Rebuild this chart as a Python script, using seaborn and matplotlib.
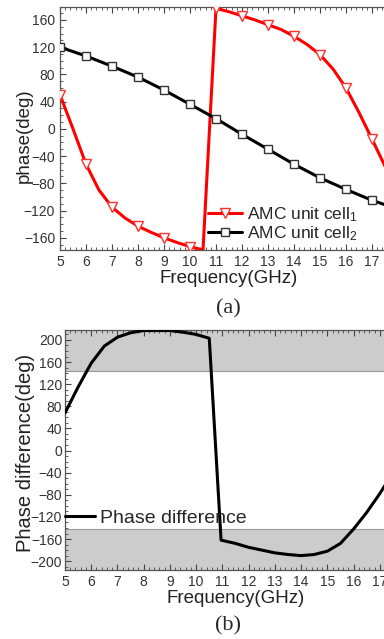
import numpy as np
import pandas as pd
import matplotlib
matplotlib.use("Agg")
import matplotlib.pyplot as plt
from matplotlib.ticker import AutoMinorLocator, MultipleLocator
import seaborn as sns

# ---- data ----
freq_cell1 = [5, 5.5, 6, 6.5, 7, 7.5, 8, 8.5, 9, 9.5, 10, 10.5, 11, 11.5, 12, 12.5,
              13, 13.5, 14, 14.5, 15, 15.5, 16, 16.5, 17, 17.5, 18]
phase_cell1 = [50, 0, -52, -90, -115, -131, -143, -152, -160, -167, -173, -178, 177, 172,
               166, 160, 153, 146, 136, 124, 109, 88, 60, 24, -15, -55, -95]
marker_idx_cell1 = [0, 2, 4, 6, 8, 10, 12, 14, 16, 18, 20, 22, 24, 26]

freq_cell2 = [5, 6, 7, 8, 9, 10, 11, 12, 13, 14, 15, 16, 17, 18]
phase_cell2 = [120, 107, 92, 76, 57, 36, 15, -8, -30, -52, -72, -89, -105, -118]

freq_diff = [5, 5.5, 6, 6.5, 7, 7.5, 8, 8.5, 9, 9.5, 10, 10.5, 10.95, 11.5, 12, 12.5,
             13, 13.5, 14, 14.5, 15, 15.5, 16, 16.5, 17, 17.5, 18]
phase_diff = [68, 115, 158, 189, 205, 213, 217, 217, 217, 214, 210, 203, -162, -168,
              -175, -180, -185, -188, -190, -188, -182, -168, -142, -112, -78, -40, 0]

label_cell1 = "AMC unit cell$_{1}$"
label_cell2 = "AMC unit cell$_{2}$"
label_diff = "Phase difference"
xticks = list(range(5, 18))
yticks_a = [-160, -120, -80, -40, 0, 40, 80, 120, 160]
yticks_b = [-200, -160, -120, -80, -40, 0, 40, 80, 120, 160, 200]

df1 = pd.DataFrame({"f": freq_cell1, "p": phase_cell1})
df2 = pd.DataFrame({"f": freq_cell2, "p": phase_cell2})
dfd = pd.DataFrame({"f": freq_diff, "p": phase_diff})

sns.set_style("ticks")
plt.rcParams["font.family"] = ["Liberation Sans", "DejaVu Sans"]
plt.rcParams["mathtext.default"] = "regular"

W, H = 384, 639
fig = plt.figure(figsize=(W / 100, H / 100), dpi=100)

def frac(l, t, r, b):
    return [l / W, 1 - b / H, (r - l) / W, (b - t) / H]

axa = fig.add_axes(frac(60, 7, 398, 250))
axb = fig.add_axes(frac(65, 330, 406, 570))

# ---- panel (a) ----
sns.lineplot(data=df1, x="f", y="p", ax=axa, color="#ff0000", linewidth=2.2,
             marker="v", markevery=marker_idx_cell1, markersize=7,
             markerfacecolor="white", markeredgecolor="#ff3030",
             markeredgewidth=1.0, label=label_cell1, zorder=3)
sns.lineplot(data=df2, x="f", y="p", ax=axa, color="black", linewidth=2.2,
             marker="s", markersize=6, markerfacecolor="white",
             markeredgecolor="#333333", markeredgewidth=1.0,
             label=label_cell2, zorder=3)
axa.set_xlim(5, 18)
axa.set_ylim(-178, 179)
axa.set_yticks(yticks_a)
axa.set_xticks(xticks)
axa.set_xlabel("Frequency(GHz)", fontsize=13.5, labelpad=1, color="#222222")
axa.set_ylabel("phase(deg)", fontsize=13.5, color="#222222")
axa.yaxis.set_label_coords(-0.080, 0.47)
axa.legend(loc="center left", bbox_to_anchor=(208 / W, 1 - 224 / H),
           bbox_transform=fig.transFigure, frameon=False, fontsize=12.5,
           borderpad=0, borderaxespad=0, handlelength=1.95, handletextpad=0.3,
           labelspacing=0.0, numpoints=1)

# ---- panel (b) ----
axb.axhspan(144, 260, color="#cccccc", zorder=0, lw=0)
axb.axhspan(-260, -142, color="#cccccc", zorder=0, lw=0)
axb.axhline(144, color="#999999", lw=0.8, zorder=1)
axb.axhline(-142, color="#999999", lw=0.8, zorder=1)
sns.lineplot(data=dfd, x="f", y="p", ax=axb, color="black", linewidth=2.2,
             label=label_diff, zorder=3)
axb.set_xlim(5, 18)
axb.set_ylim(-216, 218)
axb.set_yticks(yticks_b)
axb.set_xticks(xticks)
axb.set_xlabel("Frequency(GHz)", fontsize=13.5, labelpad=1, color="#222222")
axb.set_ylabel("Phase difference(deg)", fontsize=14.5, color="#222222")
axb.yaxis.set_label_coords(-0.088, 0.4875)
axb.legend(loc="center left", bbox_to_anchor=(65 / W, 1 - 518 / H),
           bbox_transform=fig.transFigure, frameon=False, fontsize=14,
           borderpad=0, borderaxespad=0, handlelength=1.55, handletextpad=0.26)

for ax, pad in ((axa, 3.5), (axb, 2.0)):
    ax.xaxis.set_minor_locator(AutoMinorLocator(5))
    ax.yaxis.set_minor_locator(AutoMinorLocator(4))
    ax.tick_params(which="both", direction="in", top=True, right=True,
                   colors="#444444", labelcolor="#333333")
    ax.tick_params(which="major", length=4, width=0.8, labelsize=10)
    ax.tick_params(which="minor", length=2, width=0.6)
    ax.tick_params(axis="y", pad=pad)
    for s in ax.spines.values():
        s.set_color("#555555")
        s.set_linewidth(0.9)

fig.text(228 / W, 1 - 309 / H, "(a)", ha="center", va="center",
         fontsize=16, family=["Liberation Serif", "DejaVu Serif"])
fig.text(228 / W, 1 - 626 / H, "(b)", ha="center", va="center",
         fontsize=16, family=["Liberation Serif", "DejaVu Serif"])

fig.savefig("out.png", dpi=100)
